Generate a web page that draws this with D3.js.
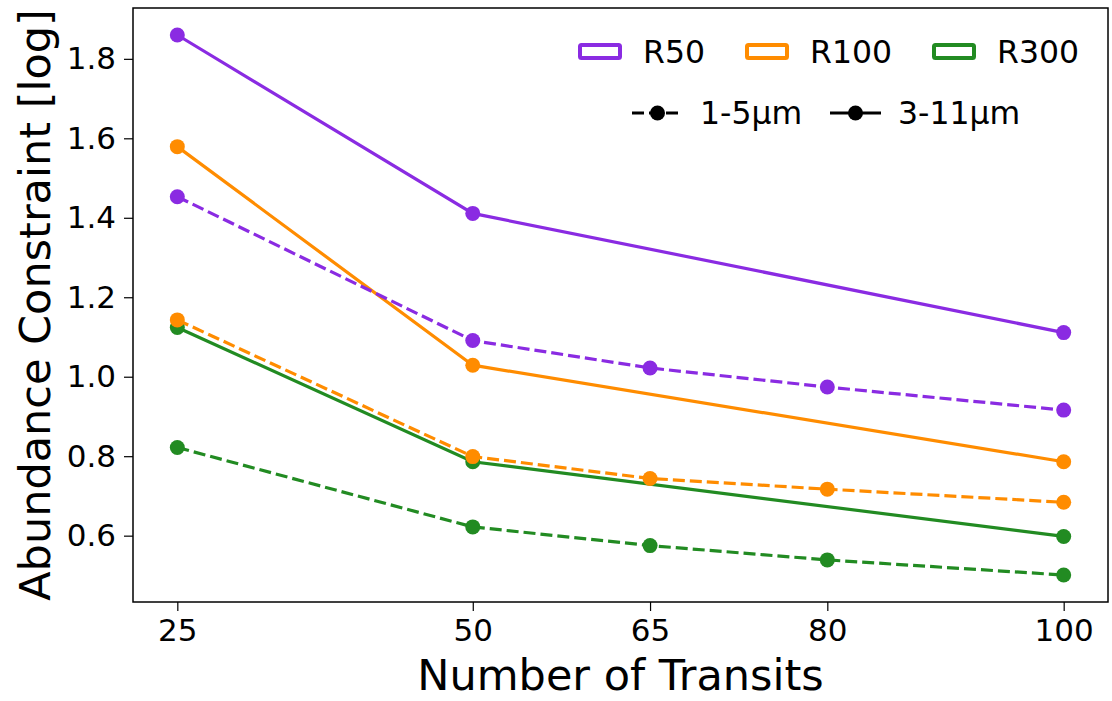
<!DOCTYPE html>
<html>
<head>
<meta charset="utf-8">
<script src="https://cdn.jsdelivr.net/npm/d3@7"></script>
<style>
  body { margin: 0; background: #fff; }
  svg text { font-family: "DejaVu Sans", sans-serif; fill: #000; }
</style>
</head>
<body>
<script>
// transits sampled for each wavelength range
const solidTransits  = [25, 50, 100];
const dashedTransits = [25, 50, 65, 80, 100];

// abundance constraint, 3-11um (solid lines)
const r50Long  = [1.860, 1.411, 1.111];
const r100Long = [1.579, 1.029, 0.786];
const r300Long = [1.124, 0.786, 0.598];

// abundance constraint, 1-5um (dashed lines)
const r50Short  = [1.453, 1.091, 1.022, 0.974, 0.916];
const r100Short = [1.143, 0.799, 0.744, 0.717, 0.684];
const r300Short = [0.822, 0.622, 0.575, 0.539, 0.501];

const xTicks = [25, 50, 65, 80, 100];
const yTicks = [0.6, 0.8, 1.0, 1.2, 1.4, 1.6, 1.8];

const resolutions = ['R50', 'R100', 'R300'];
const colors      = ['#8a2be2', '#ff8c00', '#228b22'];

const width  = 1112,
      height = 701,
      margin = {top: 8, right: 4, bottom: 99, left: 133};

// solid series first, dashed ones drawn over them
const series = [
  {x: solidTransits,  y: r50Long,   color: colors[0], dashed: false},
  {x: solidTransits,  y: r100Long,  color: colors[1], dashed: false},
  {x: solidTransits,  y: r300Long,  color: colors[2], dashed: false},
  {x: dashedTransits, y: r50Short,  color: colors[0], dashed: true},
  {x: dashedTransits, y: r100Short, color: colors[1], dashed: true},
  {x: dashedTransits, y: r300Short, color: colors[2], dashed: true}
];

// matplotlib-like 5% padding round the data
const pad = (lo, hi) => [lo - (hi - lo) * 0.05, hi + (hi - lo) * 0.05];
const allY = series.flatMap(s => s.y);
const allX = series.flatMap(s => s.x);

const x = d3.scaleLinear()
  .domain(pad(d3.min(allX), d3.max(allX)))
  .range([margin.left, width - margin.right]);
const y = d3.scaleLinear()
  .domain(pad(d3.min(allY), d3.max(allY)))
  .range([height - margin.bottom, margin.top]);

const svg = d3.select('body').append('svg')
  .attr('width', width)
  .attr('height', height);

const line = d3.line().x(d => x(d[0])).y(d => y(d[1]));

for (const s of series) {
  const pts = s.x.map((v, i) => [v, s.y[i]]);
  const g = svg.append('g');
  g.append('path')
    .attr('d', line(pts))
    .attr('fill', 'none')
    .attr('stroke', s.color)
    .attr('stroke-width', 3.2)
    .attr('stroke-dasharray', s.dashed ? '12,5' : null);
  g.selectAll('circle').data(pts).join('circle')
    .attr('cx', d => x(d[0]))
    .attr('cy', d => y(d[1]))
    .attr('r', 7.5)
    .attr('fill', s.color);
}

// axes
const xAxis = svg.append('g')
  .attr('transform', `translate(0,${height - margin.bottom})`)
  .call(d3.axisBottom(x).tickValues(xTicks).tickSize(9).tickPadding(8));
const yAxis = svg.append('g')
  .attr('transform', `translate(${margin.left},0)`)
  .call(d3.axisLeft(y).tickValues(yTicks).tickFormat(d3.format('.1f')).tickSize(9).tickPadding(8));

for (const a of [xAxis, yAxis]) {
  a.select('.domain').remove();
  a.selectAll('.tick line').attr('stroke', '#000').attr('stroke-width', 1.2);
  a.selectAll('.tick text').style('font-size', '31px').attr('fill', '#000');
}

// frame
svg.append('rect')
  .attr('x', margin.left)
  .attr('y', margin.top)
  .attr('width', width - margin.left - margin.right)
  .attr('height', height - margin.top - margin.bottom)
  .attr('fill', 'none')
  .attr('stroke', '#000')
  .attr('stroke-width', 1.5);

// axis titles
svg.append('text')
  .attr('x', (margin.left + width - margin.right) / 2)
  .attr('y', 690)
  .attr('text-anchor', 'middle')
  .style('font-size', '43px')
  .text('Number of Transits');

svg.append('text')
  .attr('transform', `translate(50,${(margin.top + height - margin.bottom) / 2}) rotate(-90)`)
  .attr('text-anchor', 'middle')
  .style('font-size', '43px')
  .text('Abundance Constraint [log]');

// legend: resolutions as outlined patches
const legend = svg.append('g');
const patchX = [578, 745, 932];
resolutions.forEach((r, i) => {
  legend.append('rect')
    .attr('x', patchX[i] + 2).attr('y', 45)
    .attr('width', 40).attr('height', 13)
    .attr('rx', 1.5)
    .attr('fill', '#fff')
    .attr('stroke', colors[i])
    .attr('stroke-width', 4);
  legend.append('text')
    .attr('x', patchX[i] + 65).attr('y', 63)
    .style('font-size', '31.5px')
    .text(r);
});

// legend: wavelength ranges as line styles
const styleItems = [
  {label: '1-5μm',  dashed: true,  x0: 632},
  {label: '3-11μm', dashed: false, x0: 830}
];
for (const it of styleItems) {
  legend.append('line')
    .attr('x1', it.x0).attr('x2', it.x0 + 51)
    .attr('y1', 113).attr('y2', 113)
    .attr('stroke', '#000')
    .attr('stroke-width', 3.2)
    .attr('stroke-dasharray', it.dashed ? '12,5' : null);
  legend.append('circle')
    .attr('cx', it.x0 + 25.5).attr('cy', 113)
    .attr('r', 7.5)
    .attr('fill', '#000');
  legend.append('text')
    .attr('x', it.x0 + 68).attr('y', 124)
    .style('font-size', '31.5px')
    .text(it.label);
}
</script>
</body>
</html>
